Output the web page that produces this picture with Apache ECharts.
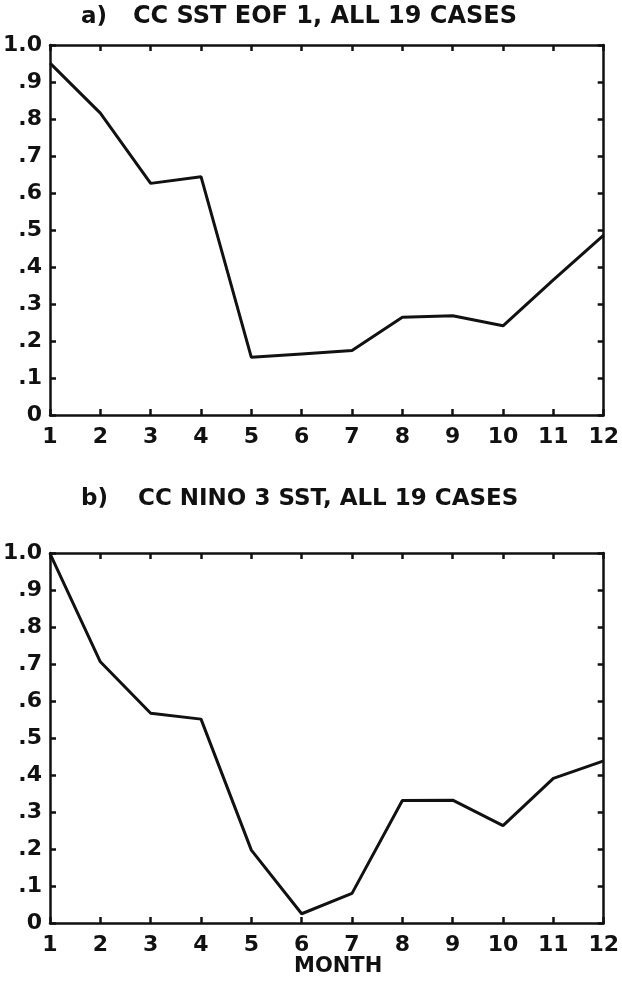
<!DOCTYPE html>
<html>
<head>
<meta charset="utf-8">
<script src="https://cdn.jsdelivr.net/npm/echarts@6/dist/echarts.min.js"></script>
<style>
html,body{margin:0;padding:0;background:#fff;}
#c{width:622px;height:990px;}
</style>
</head>
<body>
<div id="c"></div>
<script>
// Data
const months = [1,2,3,4,5,6,7,8,9,10,11,12];
const xTickLabels = ['1','2','3','4','5','6','7','8','9','10','11','12'];
const yTickLabels = ['0','.1','.2','.3','.4','.5','.6','.7','.8','.9','1.0'];
const titleA = 'CC SST EOF 1, ALL 19 CASES';
const titleB = 'CC NINO 3 SST, ALL 19 CASES';
const panelA = 'a)';
const panelB = 'b)';
const xAxisName = 'MONTH';
const ccEof1 = [0.951, 0.816, 0.626, 0.644, 0.156, 0.165, 0.174, 0.264, 0.268, 0.241, 0.365, 0.486];
const ccNino3 = [0.998, 0.706, 0.567, 0.551, 0.197, 0.025, 0.08, 0.331, 0.332, 0.263, 0.391, 0.438];

const FONT = 'DejaVu Sans';
const INK = '#111';

function xFmt(v){ const i = Math.round(v) - 1; return xTickLabels[i] !== undefined ? xTickLabels[i] : ''; }
function yFmt(v){ const i = Math.round(v * 10); return yTickLabels[i] !== undefined ? yTickLabels[i] : ''; }

function xAx(grid, pos, labels){
  return {
    type:'value', gridIndex:grid, position:pos, min:1, max:12, interval:1,
    axisLine:{show:true, onZero:false, lineStyle:{color:INK, width:2.5}},
    axisTick:{show:true, inside:true, length:6, lineStyle:{color:INK, width:2.5}},
    axisLabel:{show:labels, formatter:xFmt, color:INK, fontFamily:FONT, fontSize:22, fontWeight:'bold', margin:11},
    splitLine:{show:false}
  };
}
function yAx(grid, pos, labels){
  return {
    type:'value', gridIndex:grid, position:pos, min:0, max:1, interval:0.1,
    axisLine:{show:true, onZero:false, lineStyle:{color:INK, width:2.5}},
    axisTick:{show:true, inside:true, length:6, lineStyle:{color:INK, width:2.5}},
    axisLabel:{show:labels, formatter:yFmt, color:INK, fontFamily:FONT, fontSize:22, fontWeight:'bold', margin:8},
    splitLine:{show:false}
  };
}

const chart = echarts.init(document.getElementById('c'), null, {renderer:'canvas'});
const tStyle = {color:INK, fontFamily:FONT, fontSize:23, fontWeight:'bold'};
chart.setOption({
  backgroundColor:'#fff',
  animation:false,
  title:[
    {text:panelA, left:76, top:1, textStyle:tStyle},
    {text:titleA, left:128, top:0, textStyle:Object.assign({}, tStyle, {fontSize:24})},
    {text:panelB, left:76, top:483, textStyle:tStyle},
    {text:titleB, left:133, top:483, textStyle:tStyle},
    {text:xAxisName, left:289, top:951, textStyle:Object.assign({}, tStyle, {fontSize:21})}
  ],
  grid:[
    {left:50, top:45, width:556, height:370},
    {left:50, top:553, width:556, height:370}
  ],
  xAxis:[ xAx(0,'bottom',true), xAx(0,'top',false), xAx(1,'bottom',true), xAx(1,'top',false) ],
  yAxis:[ yAx(0,'left',true), yAx(0,'right',false), yAx(1,'left',true), yAx(1,'right',false) ],
  series:[
    {type:'line', xAxisIndex:0, yAxisIndex:0, data:months.map((m,i)=>[m, ccEof1[i]]),
     showSymbol:false, lineStyle:{color:INK, width:3}},
    {type:'line', xAxisIndex:2, yAxisIndex:2, data:months.map((m,i)=>[m, ccNino3[i]]),
     showSymbol:false, lineStyle:{color:INK, width:3}}
  ]
});
</script>
</body>
</html>
